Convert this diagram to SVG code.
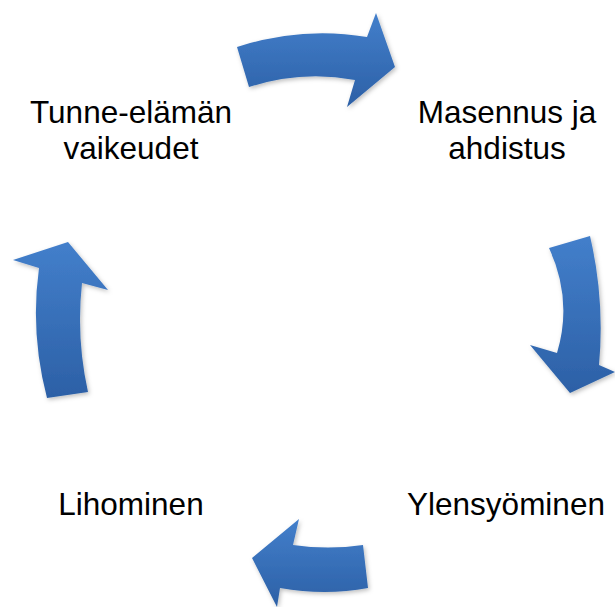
<svg xmlns="http://www.w3.org/2000/svg" width="615" height="607" viewBox="0 0 615 607">
<style>
.lbl{font-family:"Liberation Sans",Arial,sans-serif;font-size:31.5px;fill:#000;text-anchor:middle}
.arr{fill:url(#g);filter:url(#sh)}
</style>
<defs>
<linearGradient id="g" x1="0" y1="0" x2="0" y2="1">
<stop offset="0" stop-color="#437fcb"/>
<stop offset="1" stop-color="#2c60a6"/>
</linearGradient>
<filter id="sh" x="-20%" y="-20%" width="140%" height="140%">
<feDropShadow dx="1.5" dy="2" stdDeviation="2" flood-color="#000" flood-opacity="0.25"/>
</filter>
</defs>
<rect width="615" height="607" fill="#fff"/>
<g id="connectors">
<path class="arr" d="M237,47 Q302,26 367,37 L376,13 L395,67 L347,107 L355,80 Q302,70 249,87 Z"/>
<path class="arr" d="M549,248 L590,236 Q605,300 599,365 L615,372 L570,393 L530,345 L557,353 Q573,300 549,248 Z"/>
<path class="arr" d="M363,545 Q328,550 293,545 L299,519 L252,558 L277,607 L280,588 Q325,596 368,588 Z"/>
<path class="arr" d="M47,398 L88,392 Q76,338 82,283 L108,290 L68,242 L13,260 L39,268 Q30,333 47,398 Z"/>
</g>
<g id="node-tunne"><text class="lbl" x="131" y="122.5">Tunne-elämän</text><text class="lbl" x="131" y="158.5">vaikeudet</text></g>
<g id="node-masennus"><text class="lbl" x="507" y="122.5">Masennus ja</text><text class="lbl" x="507" y="158.5">ahdistus</text></g>
<g id="node-ylensyominen"><text class="lbl" x="506" y="514.5">Ylensyöminen</text></g>
<g id="node-lihominen"><text class="lbl" x="131" y="514.5">Lihominen</text></g>
</svg>
